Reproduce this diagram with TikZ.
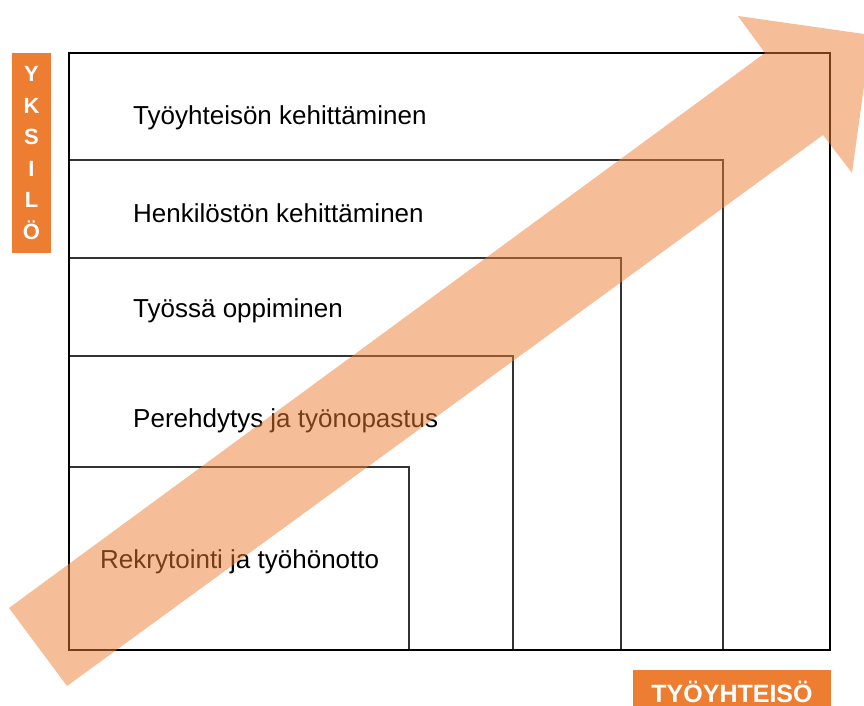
\documentclass[tikz,border=0pt]{standalone}
\usepackage{fontspec}
\setmainfont{Liberation Sans}
\definecolor{accent}{HTML}{ED7D31}
\begin{document}
\begin{tikzpicture}[x=1pt,y=-1pt,
  frame/.style={draw=black, line width=2.8pt},
  stage/.style={draw=black!80, line width=1.1pt},
  stagetext/.style={anchor=base west, inner sep=0pt, font=\fontsize{26}{30}\selectfont},
  tag/.style={fill=accent, text=white, inner sep=0pt, font=\bfseries\fontsize{22}{31.5}\selectfont, align=center},
  growth/.style={fill=accent, fill opacity=0.5, draw=none}]
\useasboundingbox (0,0) rectangle (864,706);

% nested stages, all sharing the lower-left corner
\draw[stage] (69,650) |- (409,467) -- (409,650);
\draw[stage] (69,650) |- (513,356) -- (513,650);
\draw[stage] (69,650) |- (621,258) -- (621,650);
\draw[stage] (69,650) |- (723,160) -- (723,650);
\draw[frame] (69,53) rectangle (830,650);

% stage labels
\node[stagetext] (t5) at (133,124.5) {Työyhteisön kehittäminen};
\node[stagetext] (t4) at (133,222.5) {Henkilöstön kehittäminen};
\node[stagetext] (t3) at (133,317.5) {Työssä oppiminen};
\node[stagetext] (t2) at (133,427.5) {Perehdytys ja työnopastus};
\node[stagetext] (t1) at (100,568.5) {Rekrytointi ja työhönotto};

% axis tags
\node[tag, minimum width=39, minimum height=200] (yksilo) at (31.5,153) {Y\\K\\S\\I\\L\\Ö};
\node[tag, minimum width=198, minimum height=44, anchor=north west] (yhteiso) at (633,670) {};
\node[text=white, inner sep=0pt, anchor=base, font=\bfseries\fontsize{25}{30}\selectfont] (yhteisotext) at (732,702) {TYÖYHTEISÖ};

% translucent growth arrow
\fill[growth] (9,608) -- (765,53) -- (738,16) -- (871,35) -- (852,173) -- (823,135) -- (67,686) -- cycle;
\end{tikzpicture}
\end{document}
